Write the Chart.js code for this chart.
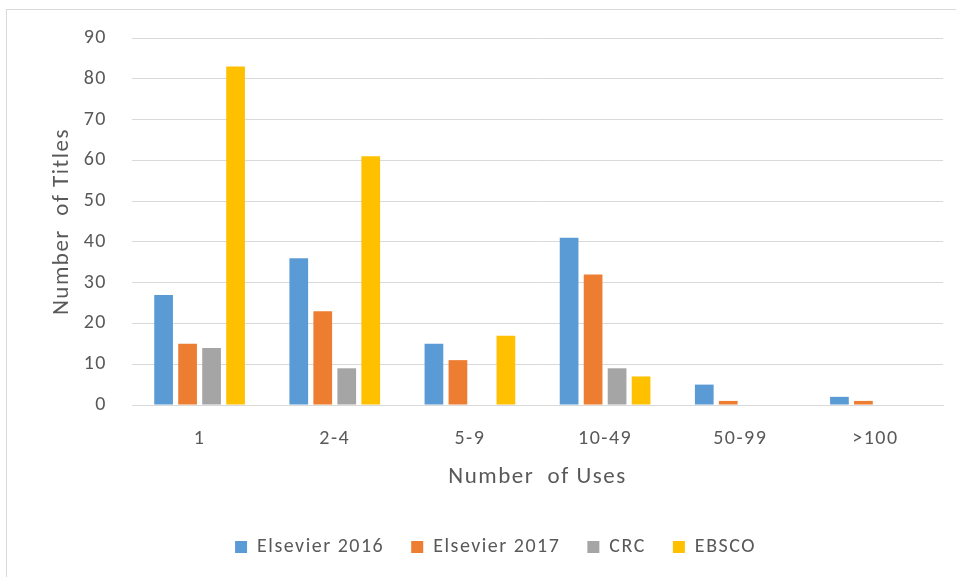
<!DOCTYPE html>
<html>
<head>
<meta charset="utf-8">
<script src="https://cdn.jsdelivr.net/npm/chart.js@4/dist/chart.umd.min.js"></script>
<style>
  html, body { margin: 0; padding: 0; background: #fff; }
  #frame {
    position: absolute; left: 6px; top: 9px; width: 950px; height: 568px;
    border-left: 1px solid #d9d9d9; border-top: 1px solid #d9d9d9;
    box-sizing: border-box; background: #fff;
  }
  #chart { display: block; }
</style>
</head>
<body>
<div id="frame"><canvas id="chart" width="949" height="567"></canvas></div>
<script>
// Usage buckets and the number of titles in each, per collection
const usageBuckets = ['1', '2-4', '5-9', '10-49', '50-99', '>100'];
const elsevier2016 = [27, 36, 15, 41, 5, 2];
const elsevier2017 = [15, 23, 11, 32, 1, 1];
const crc = [14, 9, 0, 9, 0, 0];
const ebsco = [83, 61, 17, 7, 0, 0];
const yTicks = [0, 10, 20, 30, 40, 50, 60, 70, 80, 90];

const textColor = '#595959';
const gridColor = '#d9d9d9';
const fontFamily = 'Carlito, "Open Sans", "Liberation Sans", sans-serif';

const seriesDefs = [
  { label: 'Elsevier 2016', data: elsevier2016, color: '#5b9bd5' },
  { label: 'Elsevier 2017', data: elsevier2017, color: '#ed7d31' },
  { label: 'CRC', data: crc, color: '#a5a5a5' },
  { label: 'EBSCO', data: ebsco, color: '#ffc000' }
];

// Slightly open letter spacing for all chart text
const spacedText = {
  id: 'spacedText',
  beforeUpdate(chart) { chart.ctx.letterSpacing = '1.5px'; },
  beforeDraw(chart) { chart.ctx.letterSpacing = '1.5px'; }
};

new Chart(document.getElementById('chart'), {
  type: 'bar',
  plugins: [spacedText],
  data: {
    labels: usageBuckets,
    datasets: seriesDefs.map(s => ({
      label: s.label,
      data: s.data,
      backgroundColor: s.color,
      borderWidth: 0,
      categoryPercentage: 0.71,
      barPercentage: 0.78
    }))
  },
  options: {
    responsive: false,
    animation: false,
    devicePixelRatio: 1,
    layout: { padding: { top: 28, right: 13, left: 41, bottom: 10 } },
    plugins: {
      tooltip: { enabled: false },
      legend: {
        position: 'bottom',
        labels: {
          color: textColor,
          font: { family: fontFamily, size: 20 },
          boxWidth: 12,
          boxHeight: 12,
          padding: 27
        }
      }
    },
    scales: {
      x: {
        afterFit: scale => { scale.height = 105; },
        grid: { display: false },
        border: { display: true, color: gridColor, width: 1 },
        ticks: { color: textColor, font: { family: fontFamily, size: 20 }, padding: 14 },
        title: {
          display: true, text: 'Number  of Uses', color: textColor,
          font: { family: fontFamily, size: 23 }, padding: { top: 0, bottom: 19 }
        }
      },
      y: {
        min: 0, max: 90,
        afterBuildTicks: scale => { scale.ticks = yTicks.map(v => ({ value: v })); },
        afterFit: scale => { scale.width = 84; },
        // invisible tick marks keep the labels clear of the gridlines
        grid: { color: gridColor, lineWidth: 1, drawTicks: true, tickLength: 25, tickColor: 'rgba(0,0,0,0)' },
        border: { display: false },
        ticks: { color: textColor, font: { family: fontFamily, size: 20 }, padding: 0 },
        title: {
          display: true, text: 'Number  of Titles', color: textColor,
          font: { family: fontFamily, size: 23 }, padding: { top: 0, bottom: 0 }
        }
      }
    }
  }
});
</script>
</body>
</html>
